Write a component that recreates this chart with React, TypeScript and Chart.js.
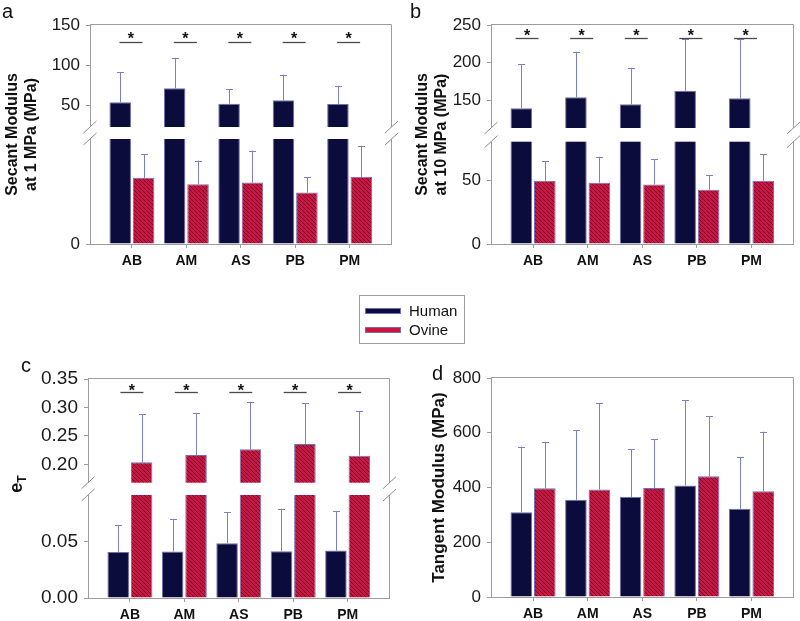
import React, { useEffect, useRef } from 'react';
import { Chart, registerables, LinearScale } from 'chart.js';

Chart.register(...registerables);

// ---------- data ----------
const categories = ['AB', 'AM', 'AS', 'PB', 'PM'];
const seriesNames = ['Human', 'Ovine'];

// a: Secant modulus at 1 MPa (MPa)
const aHuman = [53.3, 70.8, 51.6, 55.8, 51.3];
const aHumanSD = [37.9, 38.2, 18.0, 32.1, 22.9];
const aOvine = [12.6, 11.4, 11.7, 9.8, 12.8];
const aOvineSD = [4.5, 4.5, 6.1, 2.9, 5.9];
const aTicks = [0, 50, 100, 150];
const aSig = [true, true, true, true, true];

// b: Secant modulus at 10 MPa (MPa)
const bHuman = [139, 153.6, 144.2, 162.4, 152.2];
const bHumanSD = [59, 60.8, 48.8, 69.3, 79.5];
const bOvine = [49.5, 47.9, 46.6, 42.4, 49.5];
const bOvineSD = [15.1, 20.3, 19.8, 11.5, 20.5];
const bTicks = [0, 50, 150, 200, 250];
const bSig = [true, true, true, true, true];

// c: transition strain e_T
const cHuman = [0.0406, 0.041, 0.0482, 0.0412, 0.0418];
const cHumanSD = [0.0235, 0.0287, 0.0276, 0.0376, 0.0347];
const cOvine = [0.2035, 0.2164, 0.2264, 0.2357, 0.215];
const cOvineSD = [0.0845, 0.0736, 0.0836, 0.0713, 0.079];
const cTicks = [0, 0.05, 0.2, 0.25, 0.3, 0.35];
const cSig = [true, true, true, true, true];

// d: Tangent modulus (MPa)
const dHuman = [310, 355, 365, 407, 322];
const dHumanSD = [239, 254, 174, 312, 189];
const dOvine = [397, 393, 398, 441, 386];
const dOvineSD = [169, 315, 178, 220, 218];
const dTicks = [0, 200, 400, 600, 800];

// ---------- style ----------
const FONT = "'Liberation Sans', Arial, Helvetica, sans-serif";
const GRAY = '#9c9c9c';
const NAVY = '#0b0b3c';
const RED = '#d0133a';
const ERR = '#7b7fc4';
const BAR_BORDER = '#6f6fae';

type Brk = { min: number; max: number; lowMax: number; highMin: number; lowFrac: number; gapFrac: number };

function brkToDecimal(b: Brk, v: number) {
  const hiFrac = 1 - b.lowFrac - b.gapFrac;
  if (v <= b.lowMax) return ((v - b.min) / (b.lowMax - b.min)) * b.lowFrac;
  if (v >= b.highMin) return b.lowFrac + b.gapFrac + ((v - b.highMin) / (b.max - b.highMin)) * hiFrac;
  return b.lowFrac + ((v - b.lowMax) / (b.highMin - b.lowMax)) * b.gapFrac;
}
function brkFromDecimal(b: Brk, f: number) {
  const hiFrac = 1 - b.lowFrac - b.gapFrac;
  if (f <= b.lowFrac) return b.min + (f / b.lowFrac) * (b.lowMax - b.min);
  if (f >= b.lowFrac + b.gapFrac) return b.highMin + ((f - b.lowFrac - b.gapFrac) / hiFrac) * (b.max - b.highMin);
  return b.lowMax + ((f - b.lowFrac) / b.gapFrac) * (b.highMin - b.lowMax);
}

class BrokenScale extends (LinearScale as any) {
  static id = 'broken';
  static defaults = {};
  getPixelForValue(value: number) {
    const b = (this as any).options.brk as Brk;
    return (this as any).getPixelForDecimal(brkToDecimal(b, value));
  }
  getValueForPixel(pixel: number) {
    const b = (this as any).options.brk as Brk;
    return brkFromDecimal(b, (this as any).getDecimalForPixel(pixel));
  }
}
Chart.register(BrokenScale as any);

function makeHatch(): CanvasPattern | string {
  const c = document.createElement('canvas');
  c.width = 4;
  c.height = 4;
  const g = c.getContext('2d');
  if (!g) return RED;
  g.fillStyle = RED;
  g.fillRect(0, 0, 4, 4);
  g.strokeStyle = 'rgba(60,10,70,0.75)';
  g.lineWidth = 1;
  g.beginPath();
  g.moveTo(-1, -1);
  g.lineTo(5, 5);
  g.moveTo(3, -1);
  g.lineTo(5, 1);
  g.moveTo(-1, 3);
  g.lineTo(1, 5);
  g.stroke();
  return g.createPattern(c, 'repeat') || RED;
}

type PanelCfg = {
  x: number; y: number; w: number; h: number;
  area: { left: number; right: number; top: number; bottom: number };
  human: number[]; humanSD: number[]; ovine: number[]; ovineSD: number[];
  ticks: number[]; decimals: number; tickSize: number;
  min: number; max: number;
  brk?: Brk;
  title?: string[]; titlePad: number; titleSize: number;
  sig?: boolean[]; sigLineY: number; sigStarY: number; sigDx: number;
};

const panels: PanelCfg[] = [
  {
    x: 0, y: 0, w: 400, h: 280,
    area: { left: 90, right: 391, top: 25, bottom: 244 },
    human: aHuman, humanSD: aHumanSD, ovine: aOvine, ovineSD: aOvineSD,
    ticks: aTicks, decimals: 0, tickSize: 17, min: 0, max: 150,
    brk: { min: 0, max: 150, lowMax: 20, highMin: 22.5, lowFrac: 105 / 219, gapFrac: 12 / 219 },
    title: ['Secant Modulus', 'at 1 MPa (MPa)'], titlePad: 2.5, titleSize: 16,
    sig: aSig, sigLineY: 16.7, sigStarY: 10, sigDx: -1,
  },
  {
    x: 400, y: 0, w: 400, h: 280,
    area: { left: 91, right: 393, top: 25, bottom: 244 },
    human: bHuman, humanSD: bHumanSD, ovine: bOvine, ovineSD: bOvineSD,
    ticks: bTicks, decimals: 0, tickSize: 17, min: 0, max: 250,
    brk: { min: 0, max: 250, lowMax: 80, highMin: 112.7, lowFrac: 102.3 / 219, gapFrac: 13.7 / 219 },
    title: ['Secant Modulus', 'at 10 MPa (MPa)'], titlePad: 12.5, titleSize: 16,
    sig: bSig, sigLineY: 13.3, sigStarY: 7, sigDx: -6,
  },
  {
    x: 0, y: 355, w: 400, h: 266,
    area: { left: 88, right: 389, top: 24, bottom: 243 },
    human: cHuman, humanSD: cHumanSD, ovine: cOvine, ovineSD: cOvineSD,
    ticks: cTicks, decimals: 2, tickSize: 19, min: 0, max: 0.35,
    brk: { min: 0, max: 0.35, lowMax: 0.0908, highMin: 0.1677, lowFrac: 103 / 219, gapFrac: 12.3 / 219 },
    titlePad: 0, titleSize: 16,
    sig: cSig, sigLineY: 13.3, sigStarY: 7.5, sigDx: 2,
  },
  {
    x: 400, y: 355, w: 400, h: 266,
    area: { left: 91, right: 393, top: 23, bottom: 242 },
    human: dHuman, humanSD: dHumanSD, ovine: dOvine, ovineSD: dOvineSD,
    ticks: dTicks, decimals: 0, tickSize: 17, min: 0, max: 800,
    title: ['Tangent Modulus (MPa)'], titlePad: 29.5, titleSize: 17,
    sigLineY: 0, sigStarY: 0, sigDx: 0,
  },
];

function decorPlugin(p: PanelCfg) {
  return {
    id: 'decor',
    afterDatasetsDraw(chart: any) {
      const ctx: CanvasRenderingContext2D = chart.ctx;
      const a = chart.chartArea;
      const ys = chart.scales.y;
      const xs = chart.scales.x;
      ctx.save();
      // top and right frame lines
      ctx.strokeStyle = GRAY;
      ctx.lineWidth = 1;
      const tY = Math.round(a.top) - 0.5;
      const rX = Math.round(a.right) + 0.5;
      ctx.beginPath();
      ctx.moveTo(a.left, tY);
      ctx.lineTo(rX, tY);
      ctx.lineTo(rX, a.bottom);
      ctx.stroke();
      // axis break
      if (p.brk) {
        const gTop = ys.getPixelForDecimal(p.brk.lowFrac + p.brk.gapFrac);
        const gBot = ys.getPixelForDecimal(p.brk.lowFrac);
        ctx.fillStyle = '#ffffff';
        ctx.fillRect(a.left - 3, gTop, a.right - a.left + 7, gBot - gTop);
        ctx.strokeStyle = '#8c8c8c';
        ctx.lineWidth = 1;
        ctx.beginPath();
        for (const ax of [a.left, rX]) {
          for (const yy of [gTop, gBot]) {
            ctx.moveTo(ax - 6.5, yy + 6);
            ctx.lineTo(ax + 6.5, yy - 6);
          }
        }
        ctx.stroke();
      }
      // error bars (upper only)
      ctx.strokeStyle = ERR;
      ctx.lineWidth = 1;
      chart.data.datasets.forEach((ds: any, di: number) => {
        const meta = chart.getDatasetMeta(di);
        meta.data.forEach((el: any, i: number) => {
          const v = ds.data[i].y;
          const e = ds.errors[i];
          const yTop = ys.getPixelForValue(v + e);
          const cx = Math.round(el.x) + 0.5;
          ctx.beginPath();
          ctx.moveTo(cx, el.y);
          ctx.lineTo(cx, yTop);
          ctx.moveTo(cx - 3.5, Math.round(yTop) + 0.5);
          ctx.lineTo(cx + 3.5, Math.round(yTop) + 0.5);
          ctx.stroke();
        });
      });
      // significance marks
      if (p.sig) {
        p.sig.forEach((s, i) => {
          if (!s) return;
          const cx = xs.getPixelForValue(i + 1) + p.sigDx;
          const ly = Math.round(a.top + p.sigLineY) + 0.5;
          ctx.strokeStyle = '#4a4a4a';
          ctx.lineWidth = 1.3;
          ctx.beginPath();
          ctx.moveTo(cx - 11.5, ly);
          ctx.lineTo(cx + 11.5, ly);
          ctx.stroke();
          ctx.fillStyle = '#111';
          ctx.font = `bold 16px ${FONT}`;
          ctx.textAlign = 'center';
          ctx.textBaseline = 'alphabetic';
          ctx.fillText('*', cx, a.top + p.sigStarY + 0.58 * 16);
        });
      }
      ctx.restore();
    },
  };
}

function buildConfig(p: PanelCfg): any {
  const hatch = makeHatch();
  const fmt = (v: number) => (p.decimals ? Number(v).toFixed(p.decimals) : String(v));
  return {
    type: 'bar',
    data: {
      datasets: [
        {
          label: seriesNames[0],
          data: p.human.map((v, i) => ({ x: i + 1, y: v })),
          errors: p.humanSD,
          backgroundColor: NAVY,
          borderColor: BAR_BORDER,
          borderWidth: 1,
        },
        {
          label: seriesNames[1],
          data: p.ovine.map((v, i) => ({ x: i + 1, y: v })),
          errors: p.ovineSD,
          backgroundColor: hatch,
          borderColor: BAR_BORDER,
          borderWidth: 1,
        },
      ],
    },
    options: {
      responsive: false,
      animation: false,
      events: [],
      categoryPercentage: 0.86,
      barPercentage: 0.92,
      layout: { padding: { left: 0, top: p.area.top, right: p.w - p.area.right, bottom: 0 } },
      plugins: { legend: { display: false }, tooltip: { enabled: false } },
      scales: {
        x: {
          type: 'linear',
          min: 0.23,
          max: 5.76,
          offset: false,
          afterBuildTicks: (s: any) => {
            s.ticks = categories.map((_, i) => ({ value: i + 1 }));
          },
          afterFit: (s: any) => {
            s.height = p.h - p.area.bottom;
          },
          ticks: {
            autoSkip: false,
            maxRotation: 0,
            padding: 5,
            color: '#111',
            font: { family: FONT, size: 14, weight: 'bold' },
            callback: (v: number) => categories[Math.round(v) - 1] ?? '',
          },
          grid: { display: true, drawOnChartArea: false, drawTicks: true, tickLength: 4, color: GRAY, offset: false },
          border: { display: true, color: GRAY, width: 1 },
        },
        y: {
          type: p.brk ? 'broken' : 'linear',
          brk: p.brk,
          min: p.min,
          max: p.max,
          beginAtZero: true,
          afterBuildTicks: (s: any) => {
            s.ticks = p.ticks.map((v) => ({ value: v }));
          },
          afterFit: (s: any) => {
            s.width = p.area.left;
          },
          ticks: {
            autoSkip: false,
            padding: 6,
            color: '#1a1a1a',
            font: { family: FONT, size: p.tickSize },
            callback: (v: number) => fmt(v),
          },
          grid: { display: true, drawOnChartArea: false, drawTicks: true, tickLength: 4, color: GRAY },
          border: { display: true, color: GRAY, width: 1 },
          title: p.title
            ? {
                display: true,
                text: p.title,
                color: '#111',
                font: { family: FONT, size: p.titleSize, weight: 'bold', lineHeight: 1.2 },
                padding: { top: p.titlePad, bottom: 0 },
              }
            : { display: false },
        },
      },
    },
    plugins: [decorPlugin(p)],
  };
}

function Panel({ p }: { p: PanelCfg }) {
  const ref = useRef<HTMLCanvasElement>(null);
  useEffect(() => {
    if (!ref.current) return;
    const chart = new Chart(ref.current, buildConfig(p));
    return () => chart.destroy();
  }, [p]);
  return (
    <canvas
      ref={ref}
      width={p.w}
      height={p.h}
      style={{ position: 'absolute', left: p.x, top: p.y, width: p.w, height: p.h }}
    />
  );
}

const letterStyle: React.CSSProperties = {
  position: 'absolute',
  fontSize: 20,
  lineHeight: '20px',
  color: '#111',
};

export default function App() {
  return (
    <div
      style={{
        position: 'absolute',
        left: 0,
        top: 0,
        width: 800,
        height: 621,
        background: '#fff',
        fontFamily: FONT,
        overflow: 'hidden',
      }}
    >
      {panels.map((p, i) => (
        <Panel key={i} p={p} />
      ))}
      <div style={{ ...letterStyle, left: 2, top: 1 }}>a</div>
      <div style={{ ...letterStyle, left: 410, top: 1 }}>b</div>
      <div style={{ ...letterStyle, left: 21, top: 355 }}>c</div>
      <div style={{ ...letterStyle, left: 432, top: 363 }}>d</div>

      {/* y title for panel c: e with subscript T */}
      <div
        style={{
          position: 'absolute',
          left: 19,
          top: 484,
          transform: 'translate(-50%, -50%) rotate(-90deg)',
          fontWeight: 'bold',
          fontSize: 18,
          color: '#111',
          whiteSpace: 'nowrap',
          lineHeight: '20px',
        }}
      >
        e<sub style={{ fontSize: 12, verticalAlign: '-4px' }}>T</sub>
      </div>

      {/* legend */}
      <div
        style={{
          position: 'absolute',
          left: 359,
          top: 295,
          width: 104,
          height: 47,
          border: `1px solid ${GRAY}`,
          background: '#fff',
        }}
      >
        {seriesNames.map((name, i) => (
          <div key={name} style={{ position: 'absolute', left: 0, top: i === 0 ? 5 : 24, height: 20, width: 104 }}>
            <div
              style={{
                position: 'absolute',
                left: 5,
                top: 7,
                width: 36,
                height: 6,
                background: i === 0 ? NAVY : RED,
                border: `1px solid ${BAR_BORDER}`,
                boxSizing: 'border-box',
              }}
            />
            <div style={{ position: 'absolute', left: 49, top: 1, fontSize: 15, lineHeight: '18px', color: '#111' }}>
              {name}
            </div>
          </div>
        ))}
      </div>
    </div>
  );
}
